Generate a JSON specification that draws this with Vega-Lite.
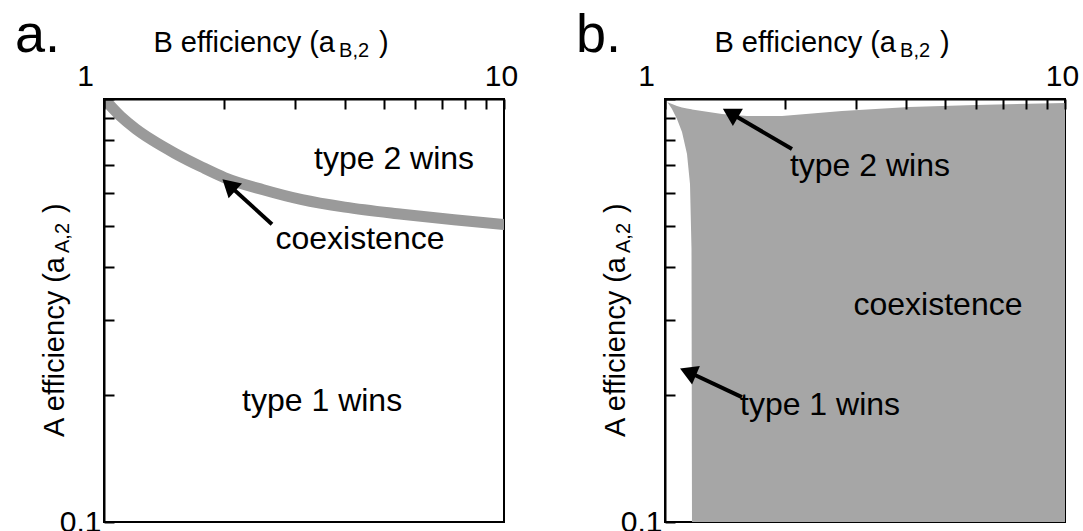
{
  "$schema": "https://vega.github.io/schema/vega-lite/v6.json",
  "background": "white",
  "padding": {"left": 13, "top": 8, "right": 0, "bottom": 0},
  "bounds": "flush",
  "spacing": 161,
  "config": {
    "view": {"stroke": "black", "strokeWidth": 2},
    "font": "Liberation Sans",
    "text": {"font": "Liberation Sans", "color": "black"}
  },
  "datasets": {
    "band": [
      {"B": 0.97, "A": 1.03},
      {"B": 1.0, "A": 1.0},
      {"B": 1.1, "A": 0.91},
      {"B": 1.2, "A": 0.85},
      {"B": 1.318, "A": 0.80},
      {"B": 1.5, "A": 0.745},
      {"B": 1.758, "A": 0.69},
      {"B": 2.0, "A": 0.652},
      {"B": 2.5, "A": 0.61},
      {"B": 3.126, "A": 0.578},
      {"B": 4.0, "A": 0.555},
      {"B": 5.56, "A": 0.534},
      {"B": 7.5, "A": 0.518},
      {"B": 10.0, "A": 0.505},
      {"B": 10.5, "A": 0.503}
    ],
    "region": [
      {"B": 1.0, "A": 1.0, "A2": 1.0},
      {"B": 1.0174, "A": 0.981, "A2": 0.9785},
      {"B": 1.0411, "A": 0.9731, "A2": 0.947},
      {"B": 1.0715, "A": 0.9626, "A2": 0.8968},
      {"B": 1.1028, "A": 0.9548, "A2": 0.8355},
      {"B": 1.135, "A": 0.949, "A2": 0.7413},
      {"B": 1.1548, "A": 0.9465, "A2": 0.6294},
      {"B": 1.1648, "A": 0.9452, "A2": 0.4416},
      {"B": 1.1681, "A": 0.9445, "A2": 0.1},
      {"B": 1.2373, "A": 0.9368, "A2": 0.1},
      {"B": 1.3883, "A": 0.9216, "A2": 0.1},
      {"B": 1.6032, "A": 0.9116, "A2": 0.1},
      {"B": 1.9611, "A": 0.9116, "A2": 0.1},
      {"B": 2.77, "A": 0.9368, "A2": 0.1},
      {"B": 4.074, "A": 0.9574, "A2": 0.1},
      {"B": 5.957, "A": 0.9679, "A2": 0.1},
      {"B": 10.0, "A": 0.9785, "A2": 0.1}
    ],
    "notes": [
      {"panel": "a", "label": "type 2 wins", "B": 5.31, "A": 0.721},
      {"panel": "a", "label": "coexistence", "B": 4.365, "A": 0.467},
      {"panel": "a", "label": "type 1 wins", "B": 3.51, "A": 0.193},
      {"panel": "b", "label": "type 2 wins", "B": 3.254, "A": 0.694},
      {"panel": "b", "label": "coexistence", "B": 4.814, "A": 0.326},
      {"panel": "b", "label": "type 1 wins", "B": 2.441, "A": 0.189}
    ],
    "arrows": [
      {"id": "a1", "panel": "a", "B": 2.63, "A": 0.506, "B2": 2.052, "A2": 0.626},
      {"id": "b2", "panel": "b", "B": 2.077, "A": 0.762, "B2": 1.457, "A2": 0.9266},
      {"id": "b1", "panel": "b", "B": 1.557, "A": 0.1974, "B2": 1.1416, "A2": 0.2265}
    ],
    "titles": [
      {"part": "xmain", "label": "B efficiency (a", "B": 3.78, "A": 1.291},
      {"part": "xsub", "label": "B,2", "B": 3.87, "A": 1.257},
      {"part": "xclose", "label": ")", "B": 4.869, "A": 1.291},
      {"part": "ymain", "label": "A efficiency (a", "B": 0.7943, "A": 0.4231},
      {"part": "ysub", "label": "A,2", "B": 0.8176, "A": 0.4325},
      {"part": "yclose", "label": ")", "B": 0.7943, "A": 0.5377}
    ],
    "letters": [
      {"panel": "a", "label": "a.", "B": 0.5989, "A": 1.291},
      {"panel": "b", "label": "b.", "B": 0.5989, "A": 1.291}
    ]
  },
  "hconcat": [
    {
      "width": 400,
      "height": 423,
      "encoding": {
        "x": {"field": "B", "type": "quantitative", "title": null,
          "scale": {"type": "log", "domain": [1, 10], "nice": false},
          "axis": {"orient": "top", "values": [1, 2, 3, 4, 5, 6, 7, 8, 9, 10],
            "labelExpr": "datum.value == 1 ? '1' : (datum.value == 10 ? '10' : '')",
            "title": null, "grid": false, "domainColor": "black", "domainWidth": 2,
            "tickColor": "black", "tickWidth": 2, "tickSize": -10,
            "labelFontSize": 30, "labelFont": "Liberation Sans", "labelColor": "black",
            "labelPadding": 18, "labelFlush": false, "labelOverlap": false,
            "labelOffset": {"condition": {"test": "datum.value == 1", "value": -19}, "value": -3},
            "zindex": 1}},
        "y": {"field": "A", "type": "quantitative", "title": null,
          "scale": {"type": "log", "domain": [0.1, 1], "nice": false},
          "axis": {"orient": "left", "values": [0.1, 0.2, 0.3, 0.4, 0.5, 0.6, 0.7, 0.8, 0.9, 1],
            "labelExpr": "datum.value < 0.15 ? '0.1' : ''",
            "title": null, "grid": false, "domainColor": "black", "domainWidth": 2,
            "tickColor": "black", "tickWidth": 2, "tickSize": -10,
            "labelFontSize": 30, "labelFont": "Liberation Sans", "labelColor": "black",
            "labelPadding": 13, "labelFlush": false, "labelOverlap": false,
            "zindex": 1}}
      },
      "layer": [
        {"data": {"name": "band"},
         "mark": {"type": "line", "clip": true, "color": "#9a9a9a", "strokeWidth": 11, "interpolate": "monotone"}},
        {"data": {"name": "notes"}, "transform": [{"filter": "datum.panel == 'a'"}],
         "mark": {"type": "text", "fontSize": 32, "align": "center", "baseline": "middle"},
         "encoding": {"text": {"field": "label"}}},
        {"data": {"name": "arrows"}, "transform": [{"filter": "datum.panel == 'a'"}],
         "mark": {"type": "rule", "color": "black", "strokeWidth": 4},
         "encoding": {"x2": {"field": "B2"}, "y2": {"field": "A2"}}},
        {"data": {"name": "arrows"}, "transform": [{"filter": "datum.id == 'a1'"}],
         "mark": {"type": "point", "shape": "triangle-up", "filled": true, "color": "black", "opacity": 1, "size": 400, "angle": 312},
         "encoding": {
           "x": {"field": "B2", "type": "quantitative", "title": null, "scale": {"type": "log", "domain": [1, 10], "nice": false}},
           "y": {"field": "A2", "type": "quantitative", "title": null, "scale": {"type": "log", "domain": [0.1, 1], "nice": false}}}},
        {"data": {"name": "titles"}, "transform": [{"filter": "datum.part == 'xmain'"}],
         "mark": {"type": "text", "fontSize": 29, "align": "right", "baseline": "alphabetic"},
         "encoding": {"text": {"field": "label"}}},
        {"data": {"name": "titles"}, "transform": [{"filter": "datum.part == 'xsub'"}],
         "mark": {"type": "text", "fontSize": 20, "align": "left", "baseline": "alphabetic"},
         "encoding": {"text": {"field": "label"}}},
        {"data": {"name": "titles"}, "transform": [{"filter": "datum.part == 'xclose'"}],
         "mark": {"type": "text", "fontSize": 29, "align": "left", "baseline": "alphabetic"},
         "encoding": {"text": {"field": "label"}}},
        {"data": {"name": "titles"}, "transform": [{"filter": "datum.part == 'ymain'"}],
         "mark": {"type": "text", "fontSize": 29, "align": "right", "baseline": "alphabetic", "angle": 270},
         "encoding": {"text": {"field": "label"}}},
        {"data": {"name": "titles"}, "transform": [{"filter": "datum.part == 'ysub'"}],
         "mark": {"type": "text", "fontSize": 20, "align": "left", "baseline": "alphabetic", "angle": 270},
         "encoding": {"text": {"field": "label"}}},
        {"data": {"name": "titles"}, "transform": [{"filter": "datum.part == 'yclose'"}],
         "mark": {"type": "text", "fontSize": 29, "align": "left", "baseline": "alphabetic", "angle": 270},
         "encoding": {"text": {"field": "label"}}},
        {"data": {"name": "letters"}, "transform": [{"filter": "datum.panel == 'a'"}],
         "mark": {"type": "text", "fontSize": 54, "align": "left", "baseline": "alphabetic"},
         "encoding": {"text": {"field": "label"}}}
      ]
    },
    {
      "width": 400,
      "height": 423,
      "encoding": {
        "x": {"field": "B", "type": "quantitative", "title": null,
          "scale": {"type": "log", "domain": [1, 10], "nice": false},
          "axis": {"orient": "top", "values": [1, 2, 3, 4, 5, 6, 7, 8, 9, 10],
            "labelExpr": "datum.value == 1 ? '1' : (datum.value == 10 ? '10' : '')",
            "title": null, "grid": false, "domainColor": "black", "domainWidth": 2,
            "tickColor": "black", "tickWidth": 2, "tickSize": -10,
            "labelFontSize": 30, "labelFont": "Liberation Sans", "labelColor": "black",
            "labelPadding": 18, "labelFlush": false, "labelOverlap": false,
            "labelOffset": {"condition": {"test": "datum.value == 1", "value": -19}, "value": -3},
            "zindex": 1}},
        "y": {"field": "A", "type": "quantitative", "title": null,
          "scale": {"type": "log", "domain": [0.1, 1], "nice": false},
          "axis": {"orient": "left", "values": [0.1, 0.2, 0.3, 0.4, 0.5, 0.6, 0.7, 0.8, 0.9, 1],
            "labelExpr": "datum.value < 0.15 ? '0.1' : ''",
            "title": null, "grid": false, "domainColor": "black", "domainWidth": 2,
            "tickColor": "black", "tickWidth": 2, "tickSize": -10,
            "labelFontSize": 30, "labelFont": "Liberation Sans", "labelColor": "black",
            "labelPadding": 13, "labelFlush": false, "labelOverlap": false,
            "zindex": 1}}
      },
      "layer": [
        {"data": {"name": "region"},
         "mark": {"type": "area", "clip": true, "color": "#a6a6a6", "opacity": 1},
         "encoding": {"y2": {"field": "A2"}}},
        {"data": {"name": "notes"}, "transform": [{"filter": "datum.panel == 'b'"}],
         "mark": {"type": "text", "fontSize": 32, "align": "center", "baseline": "middle"},
         "encoding": {"text": {"field": "label"}}},
        {"data": {"name": "arrows"}, "transform": [{"filter": "datum.panel == 'b'"}],
         "mark": {"type": "rule", "color": "black", "strokeWidth": 4},
         "encoding": {"x2": {"field": "B2"}, "y2": {"field": "A2"}}},
        {"data": {"name": "arrows"}, "transform": [{"filter": "datum.id == 'b2'"}],
         "mark": {"type": "point", "shape": "triangle-up", "filled": true, "color": "black", "opacity": 1, "size": 400, "angle": 300},
         "encoding": {
           "x": {"field": "B2", "type": "quantitative", "title": null, "scale": {"type": "log", "domain": [1, 10], "nice": false}},
           "y": {"field": "A2", "type": "quantitative", "title": null, "scale": {"type": "log", "domain": [0.1, 1], "nice": false}}}},
        {"data": {"name": "arrows"}, "transform": [{"filter": "datum.id == 'b1'"}],
         "mark": {"type": "point", "shape": "triangle-up", "filled": true, "color": "black", "opacity": 1, "size": 400, "angle": 293},
         "encoding": {
           "x": {"field": "B2", "type": "quantitative", "title": null, "scale": {"type": "log", "domain": [1, 10], "nice": false}},
           "y": {"field": "A2", "type": "quantitative", "title": null, "scale": {"type": "log", "domain": [0.1, 1], "nice": false}}}},
        {"data": {"name": "titles"}, "transform": [{"filter": "datum.part == 'xmain'"}],
         "mark": {"type": "text", "fontSize": 29, "align": "right", "baseline": "alphabetic"},
         "encoding": {"text": {"field": "label"}}},
        {"data": {"name": "titles"}, "transform": [{"filter": "datum.part == 'xsub'"}],
         "mark": {"type": "text", "fontSize": 20, "align": "left", "baseline": "alphabetic"},
         "encoding": {"text": {"field": "label"}}},
        {"data": {"name": "titles"}, "transform": [{"filter": "datum.part == 'xclose'"}],
         "mark": {"type": "text", "fontSize": 29, "align": "left", "baseline": "alphabetic"},
         "encoding": {"text": {"field": "label"}}},
        {"data": {"name": "titles"}, "transform": [{"filter": "datum.part == 'ymain'"}],
         "mark": {"type": "text", "fontSize": 29, "align": "right", "baseline": "alphabetic", "angle": 270},
         "encoding": {"text": {"field": "label"}}},
        {"data": {"name": "titles"}, "transform": [{"filter": "datum.part == 'ysub'"}],
         "mark": {"type": "text", "fontSize": 20, "align": "left", "baseline": "alphabetic", "angle": 270},
         "encoding": {"text": {"field": "label"}}},
        {"data": {"name": "titles"}, "transform": [{"filter": "datum.part == 'yclose'"}],
         "mark": {"type": "text", "fontSize": 29, "align": "left", "baseline": "alphabetic", "angle": 270},
         "encoding": {"text": {"field": "label"}}},
        {"data": {"name": "letters"}, "transform": [{"filter": "datum.panel == 'b'"}],
         "mark": {"type": "text", "fontSize": 54, "align": "left", "baseline": "alphabetic"},
         "encoding": {"text": {"field": "label"}}}
      ]
    }
  ]
}
